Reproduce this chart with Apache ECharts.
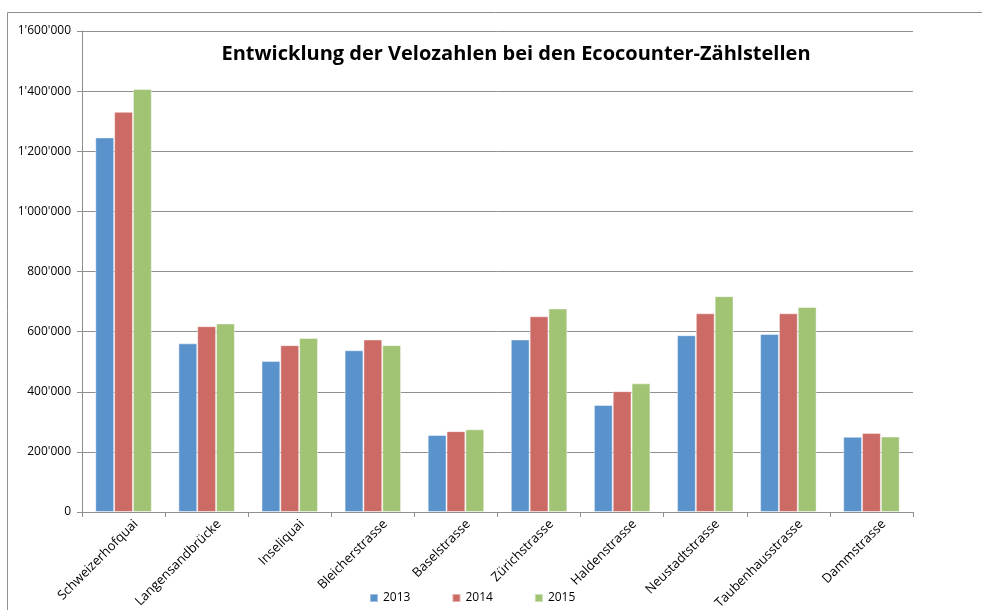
<!DOCTYPE html>
<html>
<head>
<meta charset="utf-8">
<script src="https://cdn.jsdelivr.net/npm/echarts@6/dist/echarts.min.js"></script>
<style>
  html, body { margin: 0; padding: 0; background: #fff; }
  #chart { width: 982px; height: 610px; }
</style>
</head>
<body>
<div id="chart"></div>
<script>
var stellen = ['Schweizerhofquai', 'Langensandbrücke', 'Inseliquai', 'Bleicherstrasse', 'Baselstrasse',
  'Zürichstrasse', 'Haldenstrasse', 'Neustadtstrasse', 'Taubenhausstrasse', 'Dammstrasse'];
var werte2013 = [1246000, 561000, 502000, 538000, 256000, 574000, 356000, 588000, 592000, 250000];
var werte2014 = [1331000, 618000, 555000, 574000, 269000, 651000, 402000, 661000, 661000, 263000];
var werte2015 = [1407000, 627000, 579000, 555000, 275000, 677000, 428000, 718000, 682000, 251000];
var jahre = ['2013', '2014', '2015'];

var farben = ['#5A92CC', '#CC6A65', '#A0C473'];
var font = 'Open Sans';

// 1'600'000 style labels
function fmt(v) {
  return String(v).replace(/\B(?=(\d{3})+(?!\d))/g, "'");
}

function serie(name, data, i) {
  return {
    name: name,
    type: 'bar',
    data: data,
    barGap: '0%',
    barCategoryGap: '32%',
    itemStyle: { color: farben[i], borderColor: 'rgba(255,255,255,0.45)', borderWidth: 1 }
  };
}

var myChart = echarts.init(document.getElementById('chart'));
myChart.setOption({
  animation: false,
  textStyle: { fontFamily: font },
  graphic: [{
    type: 'rect',
    shape: { x: 7.5, y: 12.5, width: 1000, height: 700 },
    style: { fill: 'none', stroke: '#8f8f8f', lineWidth: 1 },
    silent: true
  }],
  title: {
    text: 'Entwicklung der Velozahlen bei den Ecocounter-Zählstellen',
    left: 511,
    textAlign: 'center',
    top: 39,
    textStyle: { fontFamily: font, fontWeight: 'bold', fontSize: 20, color: '#000' }
  },
  legend: {
    data: jahre,
    bottom: 1,
    left: 364,
    itemWidth: 8,
    itemHeight: 8,
    itemGap: 41,
    icon: 'rect',
    textStyle: { fontFamily: font, fontSize: 12, color: '#000' }
  },
  grid: { left: 82, right: 69, top: 31, bottom: 98, containLabel: false, outerBoundsMode: 'none' },
  xAxis: {
    type: 'category',
    data: stellen,
    axisLine: { lineStyle: { color: '#8f8f8f' } },
    axisTick: { show: true, length: 5, lineStyle: { color: '#8f8f8f' } },
    axisLabel: {
      rotate: 45, fontSize: 13, color: '#000', margin: 9, interval: 0,
      verticalAlign: 'top', padding: [3, -8, 0, 0]
    }
  },
  yAxis: {
    type: 'value',
    min: 0,
    max: 1600000,
    interval: 200000,
    axisLine: { show: true, lineStyle: { color: '#8f8f8f' } },
    axisTick: { show: true, length: 5, lineStyle: { color: '#8f8f8f' } },
    axisLabel: { formatter: fmt, fontSize: 12, color: '#000', margin: 11 },
    splitLine: { lineStyle: { color: '#8f8f8f', width: 1 } }
  },
  series: [
    serie(jahre[0], werte2013, 0),
    serie(jahre[1], werte2014, 1),
    serie(jahre[2], werte2015, 2)
  ]
});
</script>
</body>
</html>
